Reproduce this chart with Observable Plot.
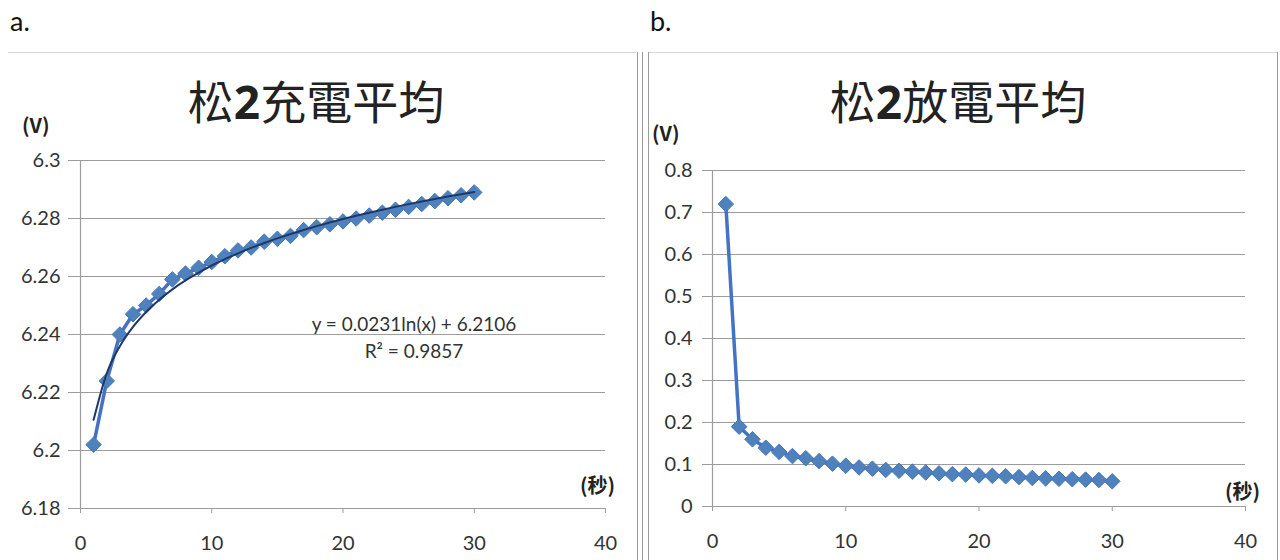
<!DOCTYPE html>
<html>
<head>
<meta charset="utf-8">
<script src="https://cdn.jsdelivr.net/npm/d3@7"></script>
<script src="https://cdn.jsdelivr.net/npm/@observablehq/plot@0.6"></script>
<style>
  html, body { margin: 0; padding: 0; background: #fff; }
  #root { position: relative; width: 1280px; height: 560px; overflow: hidden; font-family: Lato, "Open Sans", sans-serif; }
  .abs { position: absolute; }
  .panel-label { font-size: 27px; color: #111; }
  .title { font-family: "Noto Sans CJK TC", "Noto Sans CJK SC", sans-serif; font-size: 46px; color: #222; white-space: nowrap; transform: translateX(-50%); }
  .title b { font-family: "Open Sans", Lato, sans-serif; font-weight: 700; }
  .unit { font-family: "Noto Sans CJK TC", Lato, sans-serif; font-weight: 700; font-size: 20px; color: #222; }
  .eq { font-size: 19px; color: #333; text-align: center; transform: translateX(-50%); white-space: nowrap; line-height: 27px; }
  .vline { position: absolute; top: 52px; bottom: 0; width: 0; border-left: 1.5px solid #9a9a9a; }
  .hline { position: absolute; height: 0; border-top: 1px solid #d8d8d8; }
</style>
</head>
<body>
<div id="root">
  <div class="abs panel-label" style="left:10px; top:4px;">a.</div>
  <div class="abs panel-label" style="left:650px; top:4px;">b.</div>

  <div class="hline" style="left:8px; width:628px; top:52px;"></div>
  <div class="hline" style="left:648px; width:630px; top:52px;"></div>
  <div class="vline" style="left:637px;"></div>
  <div class="vline" style="left:642px;"></div>
  <div class="vline" style="left:648px;"></div>
  <div class="vline" style="left:1277px;"></div>

  <div id="left" class="abs" style="left:0px; top:70px;"></div>
  <div id="right" class="abs" style="left:640px; top:70px;"></div>

  <div class="abs title" style="left:316px; top:66px;">松<b>2</b>充電平均</div>
  <div class="abs title" style="left:958px; top:66px;">松<b>2</b>放電平均</div>

  <div class="abs unit" style="left:22px; top:110px;">(V)</div>
  <div class="abs unit" style="left:652px; top:118px;">(V)</div>
  <div class="abs unit" style="left:580px; top:470px;">(秒)</div>
  <div class="abs unit" style="left:1225px; top:476px;">(秒)</div>

  <div class="abs eq" style="left:414px; top:310px;">y = 0.0231ln(x) + 6.2106<br>R² = 0.9857</div>
</div>

<script>
// ---- data ----
const seconds = [1,2,3,4,5,6,7,8,9,10,11,12,13,14,15,16,17,18,19,20,21,22,23,24,25,26,27,28,29,30];

const chargeVolts = [6.202, 6.224, 6.240, 6.247, 6.250, 6.254, 6.259, 6.261, 6.263, 6.265,
                     6.267, 6.269, 6.270, 6.272, 6.273, 6.274, 6.276, 6.277, 6.278, 6.279,
                     6.280, 6.281, 6.282, 6.283, 6.284, 6.285, 6.286, 6.287, 6.288, 6.289];

const dischargeVolts = [0.72, 0.19, 0.16, 0.14, 0.13, 0.12, 0.115, 0.108, 0.102, 0.097,
                        0.093, 0.090, 0.087, 0.085, 0.083, 0.081, 0.079, 0.077, 0.076, 0.074,
                        0.073, 0.072, 0.070, 0.068, 0.067, 0.066, 0.065, 0.064, 0.063, 0.060];

// logarithmic trendline shown on chart a: y = 0.0231 ln(x) + 6.2106
const trendSlope = 0.0231;
const trendIntercept = 6.2106;

const xTicks = [0, 10, 20, 30, 40];
const chargeTicks = [6.18, 6.2, 6.22, 6.24, 6.26, 6.28, 6.3];
const dischargeTicks = [0, 0.1, 0.2, 0.3, 0.4, 0.5, 0.6, 0.7, 0.8];

// ---- build tables ----
const charge = seconds.map((s, i) => ({s, v: chargeVolts[i]}));
const discharge = seconds.map((s, i) => ({s, v: dischargeVolts[i]}));
const trend = seconds.map(s => ({s, v: trendSlope * Math.log(s) + trendIntercept}));

const lineColor = "#4472C4";
const markFill = "#4F81BD";
const markStroke = "#4677BA";
const gridColor = "#9c9c9c";

function chart({data, yDomain, yTicks, width, height, margins, trendData}) {
  const marks = [
    Plot.gridY(yTicks, {stroke: gridColor, strokeOpacity: 1, strokeWidth: 1.2}),
    Plot.ruleX([0], {stroke: gridColor, strokeWidth: 1.2}),
    Plot.axisY(yTicks, {tickSize: margins.ytick, tickPadding: margins.ypad, stroke: gridColor, fill: "#333", tickFormat: d3.format("~g"), label: null}),
    Plot.axisX(xTicks, {tickSize: 5, tickPadding: 22, stroke: gridColor, fill: "#333", label: null}),
    Plot.line(data, {x: "s", y: "v", stroke: lineColor, strokeWidth: 3.5}),
    Plot.dot(data, {x: "s", y: "v", symbol: "diamond2", r: 7, fill: markFill, stroke: markStroke, strokeWidth: 1})
  ];
  if (trendData) {
    marks.push(Plot.line(trendData, {x: "s", y: "v", stroke: "#1F3864", strokeWidth: 2, curve: "monotone-x"}));
  }
  return Plot.plot({
    width, height,
    marginLeft: margins.left, marginRight: margins.right, marginTop: margins.top, marginBottom: margins.bottom,
    style: {fontFamily: "Lato, 'Open Sans', sans-serif", fontSize: "20px", background: "transparent", overflow: "visible"},
    x: {domain: [0, 40]},
    y: {domain: yDomain},
    marks
  });
}

document.getElementById("left").appendChild(chart({
  data: charge, yDomain: [6.18, 6.3], yTicks: chargeTicks,
  width: 630, height: 490,
  margins: {left: 80, right: 25, top: 90, bottom: 52, ytick: 12, ypad: 8},
  trendData: trend
}));

document.getElementById("right").appendChild(chart({
  data: discharge, yDomain: [0, 0.8], yTicks: dischargeTicks,
  width: 640, height: 490,
  margins: {left: 72, right: 35, top: 100, bottom: 54, ytick: 10, ypad: 10},
  trendData: null
}));
</script>
</body>
</html>
